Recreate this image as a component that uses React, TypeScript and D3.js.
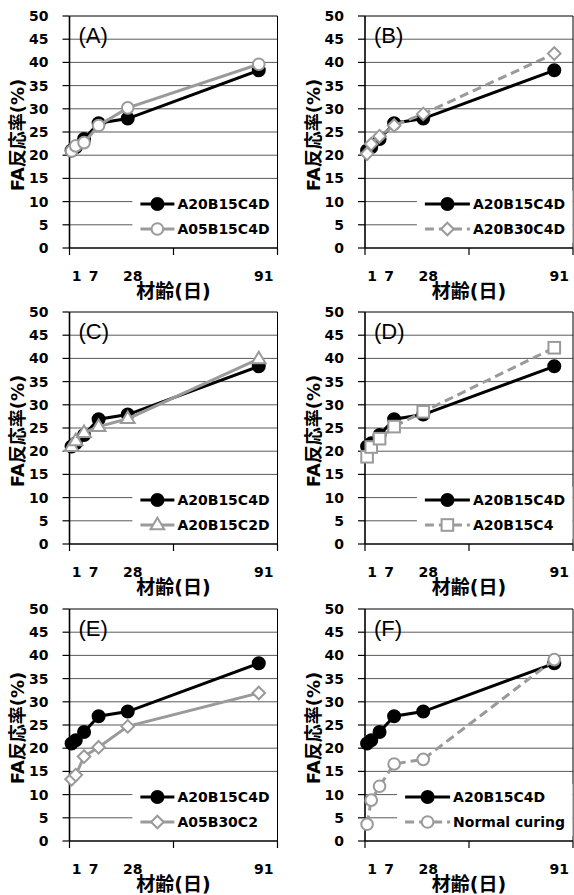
import React from "react";
import * as d3 from "d3";

// ---------- data ----------
const days = [1, 3, 7, 14, 28, 91];
const xTickLabels = [1, 7, 28, 91];
const yTicks = [0, 5, 10, 15, 20, 25, 30, 35, 40, 45, 50];

const refName = "A20B15C4D";
const refValues = [21.0, 21.7, 23.5, 26.9, 27.9, 38.3];

const panelTitles = ["(A)", "(B)", "(C)", "(D)", "(E)", "(F)"];
const compareNames = ["A05B15C4D", "A20B30C4D", "A20B15C2D", "A20B15C4", "A05B30C2", "Normal curing"];
const compareMarkers = ["circle", "diamond", "triangle", "square", "diamond", "circle"];
const compareDashed = [false, true, false, true, false, true];

const valuesA = [20.9, 22.0, 22.7, 26.4, 30.2, 39.6];
const valuesB = [20.3, 22.4, 24.1, 26.4, 28.9, 41.9];
const valuesC = [21.0, 22.2, 24.0, 25.3, 27.0, 39.9];
const valuesD = [18.8, 20.9, 22.7, 25.3, 28.5, 42.3];
const valuesE = [13.3, 14.2, 18.2, 20.2, 24.7, 31.9];
const valuesF = [3.6, 8.8, 11.8, 16.6, 17.6, 39.1];
const compareValues = [valuesA, valuesB, valuesC, valuesD, valuesE, valuesF];

// ---------- layout / style ----------
const W = 574;
const H = 895;
const colLeft = [69.5, 365];
const rowTop = [16, 312, 609];
const plotW = 208;
const plotH = 232;
const GRAY = "#9a9a9a";
const GRID = "#5a5a5a";
const BOLD = "'DejaVu Sans', 'Noto Sans CJK JP', sans-serif";
const TITLE = "'Liberation Sans', Arial, sans-serif";

let measureCtx: CanvasRenderingContext2D | null = null;
function textWidth(s: string, font: string) {
  if (!measureCtx && typeof document !== "undefined") {
    measureCtx = document.createElement("canvas").getContext("2d");
  }
  if (!measureCtx) return s.length * 9;
  measureCtx.font = font;
  return measureCtx.measureText(s).width;
}

function Marker({ kind, x, y, color, filled }: any) {
  const fill = filled ? color : "#fff";
  const sw = 2;
  if (kind === "circle") return <circle cx={x} cy={y} r={filled ? 6 : 5.8} fill={fill} stroke={color} strokeWidth={sw} />;
  if (kind === "diamond") {
    const r = 6.3;
    return <path d={`M${x},${y - r}L${x + r},${y}L${x},${y + r}L${x - r},${y}Z`} fill={fill} stroke={color} strokeWidth={sw} />;
  }
  if (kind === "square") {
    const r = 5.8;
    return <rect x={x - r} y={y - r} width={2 * r} height={2 * r} fill={fill} stroke={color} strokeWidth={sw} />;
  }
  const r = 7.2;
  return (
    <path
      d={`M${x},${y - r}L${x + r * 0.95},${y + r * 0.6}L${x - r * 0.95},${y + r * 0.6}Z`}
      fill={fill}
      stroke={color}
      strokeWidth={sw}
    />
  );
}

function Panel({ idx }: { idx: number }) {
  const col = idx % 2;
  const row = Math.floor(idx / 2);
  const left = colLeft[col];
  const top = rowTop[row];
  const right = left + plotW;
  const bottom = top + plotH;
  const x = d3.scaleLinear().domain([0, 100]).range([left, right]);
  const y = d3.scaleLinear().domain([0, 50]).range([bottom, top]);
  const line = d3
    .line<number>()
    .x((_, i) => x(days[i]))
    .y((v) => y(v));

  const cmpVals = compareValues[idx];
  const dashed = compareDashed[idx];
  const marker = compareMarkers[idx];

  // legend
  const legFont = `bold 14px 'DejaVu Sans'`;
  const maxTW = Math.max(textWidth(refName, legFont), textWidth(compareNames[idx], legFont));
  const sampleLen = dashed ? 45 : 34;
  const textX = right - 8 - maxTW;
  const sampleEnd = textX - 3;
  const sampleStart = sampleEnd - sampleLen;
  const rectX = sampleStart - 8;
  const legY1 = bottom - 44;
  const legY2 = bottom - 19;

  // x labels with min spacing
  const labelXs: number[] = [];
  xTickLabels.forEach((v, i) => {
    let px = x(v) + 5;
    if (i > 0 && px - labelXs[i - 1] < 17) px = labelXs[i - 1] + 17;
    labelXs.push(px);
  });

  return (
    <g>
      {/* gridlines */}
      {yTicks
        .filter((t) => t > 0 && t < 50)
        .map((t) => (
          <line key={"g" + t} x1={left} x2={right} y1={y(t)} y2={y(t)} stroke={GRID} strokeWidth={1} />
        ))}
      {/* plot border */}
      <line x1={left} x2={right} y1={y(50)} y2={y(50)} stroke="#000" strokeWidth={1} />
      <line x1={right} x2={right} y1={y(50)} y2={bottom} stroke="#000" strokeWidth={1} />
      {/* legend background */}
      <rect x={rectX} y={bottom - 57} width={right - rectX - 0.5} height={52} fill="#fff" />
      {/* axes */}
      <line x1={left} x2={left} y1={y(50)} y2={bottom} stroke="#000" strokeWidth={1.6} />
      <line x1={left} x2={right} y1={bottom} y2={bottom} stroke="#000" strokeWidth={1.6} />
      {yTicks.map((t) => (
        <g key={"y" + t}>
          <line x1={left - 7} x2={left} y1={y(t)} y2={y(t)} stroke="#000" strokeWidth={1.2} />
          <text
            x={left - 21}
            y={y(t) + 1}
            textAnchor="end"
            dominantBaseline="middle"
            fontFamily={BOLD}
            fontWeight="bold"
            fontSize={14}
          >
            {t}
          </text>
        </g>
      ))}
      {[0, 50, 100].map((t) => (
        <line key={"xt" + t} x1={x(t)} x2={x(t)} y1={bottom} y2={bottom + 7} stroke="#000" strokeWidth={1.2} />
      ))}
      {xTickLabels.map((v, i) => (
        <text
          key={"xl" + v}
          x={labelXs[i]}
          y={bottom + 33}
          textAnchor="middle"
          fontFamily={BOLD}
          fontWeight="bold"
          fontSize={14}
        >
          {v}
        </text>
      ))}
      <text
        x={(left + right) / 2}
        y={bottom + 50}
        textAnchor="middle"
        fontFamily={BOLD}
        fontWeight="bold"
        fontSize={19}
      >
        材齢(日)
      </text>
      <text
        transform={`translate(${left - 52},${(top + bottom) / 2 + 3}) rotate(-90)`}
        textAnchor="middle"
        dominantBaseline="central"
        fontFamily={BOLD}
        fontWeight="bold"
        fontSize={18}
      >
        FA反応率(%)
      </text>
      <text x={left + 9} y={top + 27} fontFamily={TITLE} fontSize={22}>
        {panelTitles[idx]}
      </text>

      {/* series */}
      <path d={line(refValues) || ""} fill="none" stroke="#000" strokeWidth={3} />
      {refValues.map((v, i) => (
        <Marker key={"r" + i} kind="circle" x={x(days[i])} y={y(v)} color="#000" filled />
      ))}
      <path
        d={line(cmpVals) || ""}
        fill="none"
        stroke={GRAY}
        strokeWidth={3}
        strokeDasharray={dashed ? "9,5" : undefined}
      />
      {cmpVals.map((v, i) => (
        <Marker key={"c" + i} kind={marker} x={x(days[i])} y={y(v)} color={GRAY} filled={false} />
      ))}

      {/* legend */}
      <line x1={sampleStart} x2={sampleEnd} y1={legY1} y2={legY1} stroke="#000" strokeWidth={3} />
      <Marker kind="circle" x={(sampleStart + sampleEnd) / 2} y={legY1} color="#000" filled />
      <text x={textX} y={legY1} dominantBaseline="central" fontFamily={BOLD} fontWeight="bold" fontSize={14}>
        {refName}
      </text>
      <line
        x1={sampleStart}
        x2={sampleEnd}
        y1={legY2}
        y2={legY2}
        stroke={GRAY}
        strokeWidth={3}
        strokeDasharray={dashed ? "9,5" : undefined}
      />
      <Marker kind={marker} x={(sampleStart + sampleEnd) / 2} y={legY2} color={GRAY} filled={false} />
      <text x={textX} y={legY2} dominantBaseline="central" fontFamily={BOLD} fontWeight="bold" fontSize={14}>
        {compareNames[idx]}
      </text>
    </g>
  );
}

export default function App() {
  return (
    <svg
      width={W}
      height={H}
      viewBox={`0 0 ${W} ${H}`}
      style={{ position: "absolute", left: 0, top: 0, background: "#fff" }}
    >
      <rect width={W} height={H} fill="#fff" />
      {panelTitles.map((_, i) => (
        <Panel key={i} idx={i} />
      ))}
    </svg>
  );
}
